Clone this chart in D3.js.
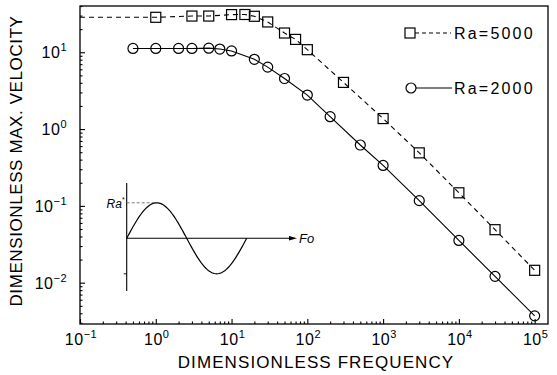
<!DOCTYPE html>
<html><head><meta charset="utf-8">
<script src="https://cdn.jsdelivr.net/npm/d3@7"></script>
<style>
html,body{margin:0;padding:0;background:#fff;}
svg{display:block;font-family:"Liberation Sans",Arial,sans-serif;}
</style></head>
<body>
<svg id="chart" width="557" height="375"></svg>
<script>
// ---- data ----
const freq2000 = [0.5, 1, 2, 3, 5, 7, 10, 20, 30, 50, 100, 200, 500, 1000, 3000, 10000, 30000, 100000];
const vel2000  = [11.2, 11.2, 11.2, 11.2, 11.3, 11.0, 10.4, 8.1, 6.4, 4.55, 2.77, 1.45, 0.62, 0.336, 0.117, 0.0355, 0.0121, 0.0037];
const freq5000 = [1, 3, 5, 10, 15, 20, 30, 50, 70, 100, 300, 1000, 3000, 10000, 30000, 100000];
const vel5000  = [28.5, 29.6, 29.6, 30.9, 31.0, 29.4, 24.8, 17.8, 14.7, 10.8, 4.05, 1.37, 0.49, 0.148, 0.049, 0.0145];
const ext5000  = [0.1, 28.5]; // dashed line continues flat to the left frame
const xTickExps = [-1, 0, 1, 2, 3, 4, 5];
const yTickExps = [-2, -1, 0, 1];
const legendLabels = ["Ra=5000", "Ra=2000"];
const xTitle = "DIMENSIONLESS FREQUENCY";
const yTitle = "DIMENSIONLESS MAX. VELOCITY";

// ---- layout ----
const svg = d3.select("#chart");
const L = 80, R = 548, T = 6, B = 324;
const x = d3.scaleLog().domain([0.1, 1.5e5]).range([L, R]);
const y = d3.scaleLog().domain([0.0029, 40]).range([B, T]);

function minorTicks(scale){
  const [a,b] = scale.domain();
  const out = [];
  for (let e = Math.floor(Math.log10(a)); e <= Math.ceil(Math.log10(b)); e++){
    for (let m = 1; m <= 9; m++){
      const v = m * Math.pow(10, e);
      if (v >= a && v <= b) out.push(v);
    }
  }
  return out;
}
const xAll = minorTicks(x), yAll = minorTicks(y);
const isMajor = v => Math.abs(Math.log10(v) - Math.round(Math.log10(v))) < 1e-9;

// frame
svg.append("rect").attr("x", L).attr("y", T).attr("width", R - L).attr("height", B - T)
  .attr("fill", "none").attr("stroke", "#000").attr("stroke-width", 1.3);

// bottom axis ticks (inward)
const gx = svg.append("g").attr("transform", `translate(0,${B})`)
  .call(d3.axisBottom(x).tickValues(xAll).tickFormat("").tickSizeOuter(0)
        .tickSizeInner(-2));
gx.select(".domain").remove();
gx.selectAll(".tick line").attr("y2", d => isMajor(d) ? -5 : -2.5).attr("stroke-width", 1.1);

// left axis ticks (inward)
const gy = svg.append("g").attr("transform", `translate(${L},0)`)
  .call(d3.axisLeft(y).tickValues(yAll).tickFormat("").tickSizeOuter(0).tickSizeInner(-2));
gy.select(".domain").remove();
gy.selectAll(".tick line").attr("x2", d => isMajor(d) ? 5 : 2.5).attr("stroke-width", 1.1);

// tick labels
const xl = svg.append("g").selectAll("text").data(xTickExps).join("text")
  .attr("x", d => x(Math.pow(10, d)) + 1).attr("y", 345)
  .attr("text-anchor", "middle").attr("font-size", 16).attr("letter-spacing", 0.5);
xl.append("tspan").text("10");
xl.append("tspan").attr("dy", -7).attr("font-size", 11).text(d => String(d).replace("-", "\u2212"));

const yl = svg.append("g").selectAll("text").data(yTickExps).join("text")
  .attr("x", 67).attr("y", d => y(Math.pow(10, d)) + 6)
  .attr("text-anchor", "end").attr("font-size", 16).attr("letter-spacing", 0.5);
yl.append("tspan").text("10");
yl.append("tspan").attr("dy", -7).attr("font-size", 11).text(d => String(d).replace("-", "\u2212"));

// titles
svg.append("text").attr("x", (L + R) / 2 + 2).attr("y", 368).attr("text-anchor", "middle")
  .attr("font-size", 17).attr("letter-spacing", 1.1).text(xTitle);
svg.append("text").attr("transform", `translate(22,${(T + B) / 2 - 4}) rotate(-90)`)
  .attr("text-anchor", "middle").attr("font-size", 17).attr("letter-spacing", 0.6).text(yTitle);

// series
const s2000 = freq2000.map((f, i) => [f, vel2000[i]]);
const s5000 = freq5000.map((f, i) => [f, vel5000[i]]);
const line = d3.line().x(d => x(d[0])).y(d => y(d[1]));

svg.append("path").datum(s2000).attr("d", line)
  .attr("fill", "none").attr("stroke", "#000").attr("stroke-width", 1.1);
svg.append("path").datum([ext5000].concat(s5000)).attr("d", line)
  .attr("fill", "none").attr("stroke", "#000").attr("stroke-width", 1.1).attr("stroke-dasharray", "5,4");

svg.append("g").selectAll("circle").data(s2000).join("circle")
  .attr("cx", d => x(d[0])).attr("cy", d => y(d[1])).attr("r", 5)
  .attr("fill", "none").attr("stroke", "#000").attr("stroke-width", 1.2);
const sq = 10;
svg.append("g").selectAll("rect").data(s5000).join("rect")
  .attr("x", d => x(d[0]) - sq / 2).attr("y", d => y(d[1]) - sq / 2)
  .attr("width", sq).attr("height", sq)
  .attr("fill", "none").attr("stroke", "#000").attr("stroke-width", 1.2);

// legend
const leg = svg.append("g");
const ly = [33, 88];
leg.append("rect").attr("x", 405).attr("y", ly[0] - 5).attr("width", 10).attr("height", 10)
  .attr("fill", "none").attr("stroke", "#000").attr("stroke-width", 1.2);
leg.append("line").attr("x1", 415).attr("x2", 451).attr("y1", ly[0]).attr("y2", ly[0])
  .attr("stroke", "#000").attr("stroke-width", 1.1).attr("stroke-dasharray", "4,3");
leg.append("circle").attr("cx", 411).attr("cy", ly[1]).attr("r", 5)
  .attr("fill", "none").attr("stroke", "#000").attr("stroke-width", 1.2);
leg.append("line").attr("x1", 416).attr("x2", 452).attr("y1", ly[1]).attr("y2", ly[1])
  .attr("stroke", "#000").attr("stroke-width", 1.1);
leg.selectAll("text").data(legendLabels).join("text")
  .attr("x", 454).attr("y", (d, i) => ly[i] + 6)
  .attr("font-size", 16).attr("letter-spacing", 2.2).text(d => d);

// inset schematic
const inset = { x0: 126.7, y0: 238.3, period: 120, amp: 35.5, top: 183, bottom: 291, arrowEnd: 297 };
const ig = svg.append("g");
ig.append("line").attr("x1", inset.x0).attr("x2", inset.x0).attr("y1", inset.top).attr("y2", inset.bottom)
  .attr("stroke", "#000").attr("stroke-width", 1.1);
ig.append("line").attr("x1", inset.x0).attr("x2", inset.arrowEnd - 6).attr("y1", inset.y0).attr("y2", inset.y0)
  .attr("stroke", "#000").attr("stroke-width", 1.1);
ig.append("path").attr("d", `M${inset.arrowEnd},${inset.y0} l-8,-2.2 l0,4.4 z`).attr("fill", "#000");
const sinePts = d3.range(0, 1.0001, 0.01).map(t => [inset.x0 + t * inset.period, inset.y0 - inset.amp * Math.sin(2 * Math.PI * t)]);
ig.append("path").datum(sinePts).attr("d", d3.line()).attr("fill", "none").attr("stroke", "#000").attr("stroke-width", 1.2);
ig.append("line").attr("x1", inset.x0).attr("x2", inset.x0 + inset.period / 4).attr("y1", inset.y0 - inset.amp).attr("y2", inset.y0 - inset.amp)
  .attr("stroke", "#666").attr("stroke-width", 0.9).attr("stroke-dasharray", "3,2");
ig.append("line").attr("x1", inset.x0 - 3).attr("x2", inset.x0).attr("y1", inset.y0 + inset.amp).attr("y2", inset.y0 + inset.amp)
  .attr("stroke", "#000").attr("stroke-width", 0.9);
const raLabel = ig.append("text").attr("x", inset.x0 - 2).attr("y", inset.y0 - inset.amp + 5).attr("text-anchor", "end")
  .attr("font-size", 12).attr("font-style", "italic");
raLabel.append("tspan").text("Ra");
raLabel.append("tspan").attr("dy", -6).attr("font-size", 7).attr("font-style", "normal").text("*");
ig.append("text").attr("x", inset.arrowEnd + 2).attr("y", inset.y0 + 5)
  .attr("font-size", 13).attr("font-style", "italic").text("Fo");
</script>
</body></html>
